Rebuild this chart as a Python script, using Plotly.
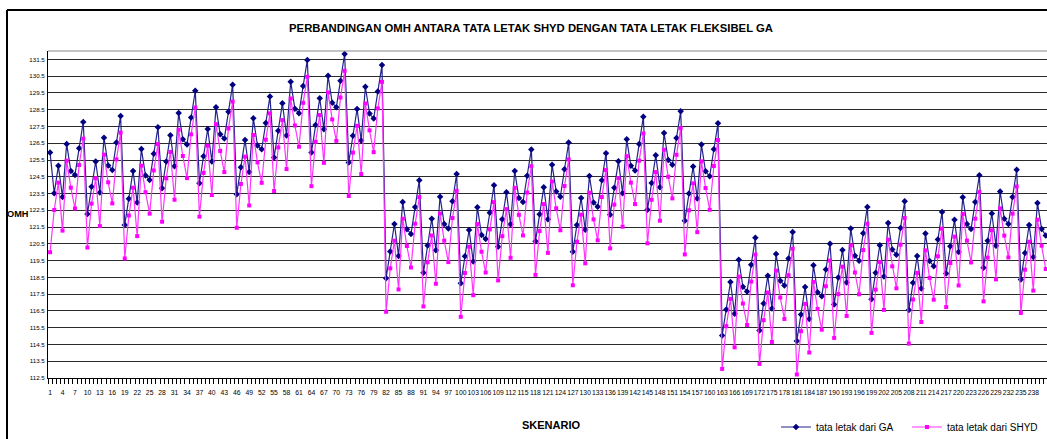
import plotly.graph_objects as go

# ---------------- data ----------------
skenario = list(range(1, 242))

omh_ga = [
    125.94, 123.52, 125.15, 123.29, 126.46, 124.85, 124.61, 126.20, 127.77,
    122.28, 123.90, 125.41, 123.56, 126.82, 125.17, 124.91, 126.54, 128.13,
    121.63, 123.19, 124.85, 122.96, 126.16, 124.58, 124.30, 125.88, 127.45,
    123.82, 125.41, 126.98, 125.13, 128.31, 126.74, 126.42, 128.03, 129.63,
    124.12, 125.73, 127.35, 125.41, 128.64, 127.04, 126.78, 128.38, 129.99,
    123.46, 125.07, 126.70, 124.79, 127.99, 126.36, 126.14, 127.71, 129.28,
    125.65, 127.25, 128.88, 126.96, 130.17, 128.56, 128.29, 129.91, 131.46,
    125.94, 127.59, 129.18, 127.33, 130.53, 128.92, 128.64, 130.23, 131.82,
    125.35, 126.94, 128.54, 126.66, 129.87, 128.27, 127.97, 129.58, 131.16,
    118.45, 120.04, 121.69, 119.78, 123.00, 121.37, 121.09, 122.70, 124.29,
    118.77, 120.40, 122.00, 120.12, 123.31, 121.69, 121.41, 123.04, 124.66,
    118.15, 119.76, 121.33, 119.44, 122.68, 121.03, 120.79, 122.36, 123.99,
    120.32, 121.96, 123.57, 121.67, 124.84, 123.23, 123.00, 124.56, 126.13,
    120.65, 122.26, 123.87, 121.96, 125.22, 123.62, 123.31, 124.95, 126.54,
    120.03, 121.63, 123.24, 121.34, 124.55, 122.96, 122.71, 124.29, 125.90,
    122.23, 123.84, 125.42, 123.52, 126.73, 125.15, 124.87, 126.46, 128.08,
    122.53, 124.13, 125.78, 123.88, 127.11, 125.50, 125.21, 126.81, 128.40,
    121.87, 123.50, 125.11, 123.20, 126.42, 124.83, 124.53, 126.14, 127.69,
    115.04, 116.59, 118.22, 116.33, 119.55, 117.94, 117.66, 119.25, 120.86,
    115.34, 116.95, 118.60, 116.65, 119.90, 118.30, 118.02, 119.63, 121.21,
    114.71, 116.29, 117.92, 116.02, 119.23, 117.62, 117.38, 118.97, 120.50,
    116.89, 118.50, 120.14, 118.20, 121.41, 119.79, 119.49, 121.13, 122.70,
    117.19, 118.77, 120.42, 118.56, 121.75, 120.16, 119.85, 121.45, 123.04,
    116.55, 118.18, 119.77, 117.84, 121.11, 119.47, 119.17, 120.76, 122.40,
    118.73, 120.36, 121.93, 120.02, 123.28, 121.69, 121.39, 123.00, 124.59,
    119.07, 120.68, 122.31, 120.38, 123.62, 121.99, 121.69, 123.30, 124.92,
    118.38, 119.96, 121.63, 119.71, 122.94, 121.39, 121.00,
]

omh_shyd = [
    120.00, 122.52, 124.15, 121.29, 125.46, 123.85, 122.61, 125.20, 126.77,
    120.28, 122.90, 124.41, 121.56, 125.82, 124.17, 122.91, 125.54, 127.13,
    119.63, 122.19, 123.85, 120.96, 125.16, 123.58, 122.30, 124.88, 126.45,
    121.82, 124.41, 125.98, 123.13, 127.31, 125.74, 124.42, 127.03, 128.63,
    122.12, 124.73, 126.35, 123.41, 127.64, 126.04, 124.78, 127.38, 128.99,
    121.46, 124.07, 125.70, 122.79, 126.99, 125.36, 124.14, 126.71, 128.28,
    123.65, 126.25, 127.88, 124.96, 129.17, 127.56, 126.29, 128.91, 130.46,
    123.94, 126.59, 128.18, 125.33, 129.53, 127.92, 126.64, 129.23, 130.82,
    123.35, 125.94, 127.54, 124.66, 128.87, 127.27, 125.97, 128.58, 130.16,
    116.45, 119.04, 120.69, 117.78, 122.00, 120.37, 119.09, 121.70, 123.29,
    116.77, 119.40, 121.00, 118.12, 122.31, 120.69, 119.41, 122.04, 123.66,
    116.15, 118.76, 120.33, 117.44, 121.68, 120.03, 118.79, 121.36, 122.99,
    118.32, 120.96, 122.57, 119.67, 123.84, 122.23, 121.00, 123.56, 125.13,
    118.65, 121.26, 122.87, 119.96, 124.22, 122.62, 121.31, 123.95, 125.54,
    118.03, 120.63, 122.24, 119.34, 123.55, 121.96, 120.71, 123.29, 124.90,
    120.23, 122.84, 124.42, 121.52, 125.73, 124.15, 122.87, 125.46, 127.08,
    120.53, 123.13, 124.78, 121.88, 126.11, 124.50, 123.21, 125.81, 127.40,
    119.87, 122.50, 124.11, 121.20, 125.42, 123.83, 122.53, 125.14, 126.69,
    113.04, 115.59, 117.22, 114.33, 118.55, 116.94, 115.66, 118.25, 119.86,
    113.34, 115.95, 117.60, 114.65, 118.90, 117.30, 116.02, 118.63, 120.21,
    112.71, 115.29, 116.92, 114.02, 118.23, 116.62, 115.38, 117.97, 119.50,
    114.89, 117.50, 119.14, 116.20, 120.41, 118.79, 117.49, 120.13, 121.70,
    115.19, 117.77, 119.42, 116.56, 120.75, 119.16, 117.85, 120.45, 122.04,
    114.55, 117.18, 118.77, 115.84, 120.11, 118.47, 117.17, 119.76, 121.40,
    116.73, 119.36, 120.93, 118.02, 122.28, 120.69, 119.39, 122.00, 123.59,
    117.07, 119.68, 121.31, 118.38, 122.62, 120.99, 119.69, 122.30, 123.92,
    116.38, 118.96, 120.63, 117.71, 121.94, 120.39, 119.00,
]

x_tick_vals = list(range(1, 242, 3))
x_tick_labels = [str(v) for v in x_tick_vals]
y_tick_vals = [112.5 + k for k in range(20)]
y_tick_labels = ["%.1f" % v for v in y_tick_vals]

title_text = "PERBANDINGAN OMH ANTARA TATA LETAK SHYD DENGAN TATA LETAK FLEKSIBEL GA"
name_ga = "tata letak dari GA"
name_shyd = "tata letak dari SHYD"

# ---------------- figure ----------------
FONT = "Liberation Sans Narrow, Arial Narrow, Liberation Sans, Arial, sans-serif"

fig = go.Figure()
fig.add_trace(go.Scatter(
    x=skenario, y=omh_ga, name=name_ga, mode="lines+markers",
    line=dict(color="#23238c", width=1.2),
    marker=dict(symbol="diamond", size=5, color="#000080"),
))
fig.add_trace(go.Scatter(
    x=skenario, y=omh_shyd, name=name_shyd, mode="lines+markers",
    line=dict(color="#ff33ff", width=1.2),
    marker=dict(symbol="square", size=4, color="#ff00ff"),
))

W, H = 1047, 439
L, R, T, B = 48, 0, 51, 61
pw, ph = W - L - R, H - T - B


def px(xp):
    return (xp - L) / pw


def py(yp):
    return (H - B - yp) / ph


fig.update_layout(
    width=W, height=H,
    margin=dict(l=L, r=R, t=T, b=B, autoexpand=False),
    paper_bgcolor="white", plot_bgcolor="white",
    font=dict(family=FONT, color="black"),
    title=dict(text="<b>" + title_text + "</b>", x=531 / W, xanchor="center",
               y=1 - 28 / H, yanchor="middle",
               font=dict(family=FONT, size=11.3, color="black")),
    showlegend=True,
    legend=dict(orientation="h", x=px(776), y=py(427), xanchor="left", yanchor="middle",
                font=dict(family=FONT, size=10, color="black"),
                bgcolor="rgba(0,0,0,0)", entrywidth=86, entrywidthmode="pixels",
                itemwidth=30, tracegroupgap=0),
    xaxis=dict(
        range=[0.5, 241.3], tickmode="array", tickvals=x_tick_vals, ticktext=x_tick_labels,
        tickangle=0, tickfont=dict(family=FONT, size=6.8, color="black"),
        showgrid=False, zeroline=False, showline=True, linecolor="black", linewidth=1,
        ticks="", ticklabelstandoff=8,
        minor=dict(ticks="outside", ticklen=5, tickcolor="black", tickwidth=1,
                   tickmode="linear", tick0=0.5, dtick=1, showgrid=False),
    ),
    yaxis=dict(
        range=[112.5, 132.0], tickmode="array", tickvals=y_tick_vals, ticktext=y_tick_labels,
        tickfont=dict(family=FONT, size=6.2, color="black"),
        showgrid=True, gridcolor="#2a2a2a", gridwidth=1, zeroline=False,
        showline=True, linecolor="black", linewidth=1, ticks="", ticklabelstandoff=1,
    ),
    annotations=[
        dict(text="<b>OMH</b>", x=px(6), y=py(214), xref="paper", yref="paper",
             xanchor="left", yanchor="middle", showarrow=False, borderpad=0,
             font=dict(family=FONT, size=9.2, color="black")),
        dict(text="<b>SKENARIO</b>", x=px(551), y=py(425), xref="paper", yref="paper",
             xanchor="center", yanchor="middle", showarrow=False,
             font=dict(family=FONT, size=11, color="black")),
    ],
    shapes=[
        dict(type="line", xref="paper", yref="paper", x0=0, x1=1, y0=1, y1=1,
             line=dict(color="#888888", width=1)),
        dict(type="line", xref="paper", yref="paper", x0=px(7), x1=px(W + 5), y0=py(10), y1=py(10),
             line=dict(color="black", width=2), layer="above"),
        dict(type="line", xref="paper", yref="paper", x0=px(7), x1=px(7), y0=py(10), y1=py(H + 5),
             line=dict(color="black", width=2), layer="above"),
    ],
)

fig.write_html(
    "out.html",
    config={"displayModeBar": False},
    post_script="document.body.style.margin='0';document.body.style.padding='0';"
                "document.body.style.overflow='hidden';",
)
